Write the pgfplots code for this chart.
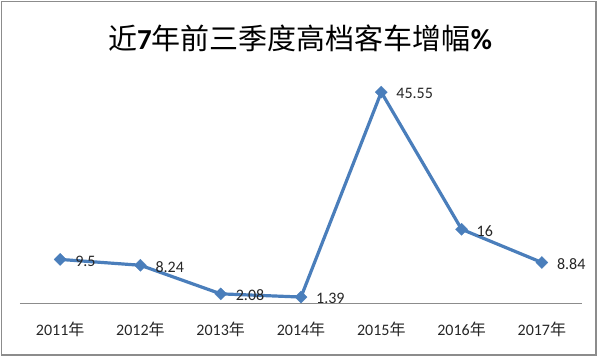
\documentclass[border=0pt]{standalone}
\usepackage{pgfplots}
\pgfplotsset{compat=1.18}
\usepackage{fontspec}
\setmainfont{Carlito}
\newfontfamily\cjk{Noto Sans CJK SC}
\definecolor{lineblue}{HTML}{4A7EBB}
\definecolor{framegray}{HTML}{8C8C8C}
\begin{document}
\begin{tikzpicture}[x=1pt,y=1pt]
\useasboundingbox (0,0) rectangle (600,359);
\draw[framegray, line width=1.2pt] (1.5,4) rectangle (596,357.5);
\node[font=\fontsize{29}{34}\selectfont] at (300,321) {{\cjk 近}{\bfseries 7}{\cjk 年前三季度高档客车增幅}{\bfseries\%}};
\begin{axis}[
  at={(20pt,55.5pt)}, anchor=south west,
  scale only axis, width=562pt, height=232pt,
  xmin=-0.5, xmax=6.5, ymin=0, ymax=50,
  axis x line*=bottom, axis y line=none,
  x axis line style={draw=framegray, line width=0.8pt, -},
  xtick={0,...,6},
  xticklabels={2011{\cjk 年},2012{\cjk 年},2013{\cjk 年},2014{\cjk 年},2015{\cjk 年},2016{\cjk 年},2017{\cjk 年}},
  major tick length=0pt,
  xticklabel style={anchor=base, yshift=-32.5pt, font=\fontsize{16}{19}\selectfont, text=black!85},
  clip=false,
  nodes near coords,
  point meta=explicit symbolic,
  every node near coord/.style={anchor=west, inner sep=0pt, xshift=15pt, yshift=-1.5pt, font=\fontsize{16}{19}\selectfont, text=black!85},
]
\addplot[lineblue, line width=3.2pt, mark=square*, mark size=4.3pt, mark options={rotate=45, fill=lineblue, draw=lineblue, line width=0.3pt}]
coordinates {(0,9.5)[9.5] (1,8.24)[8.24] (2,2.08)[2.08] (3,1.39)[1.39] (4,45.55)[45.55] (5,16)[16] (6,8.84)[8.84]};
\end{axis}
\end{tikzpicture}
\end{document}
